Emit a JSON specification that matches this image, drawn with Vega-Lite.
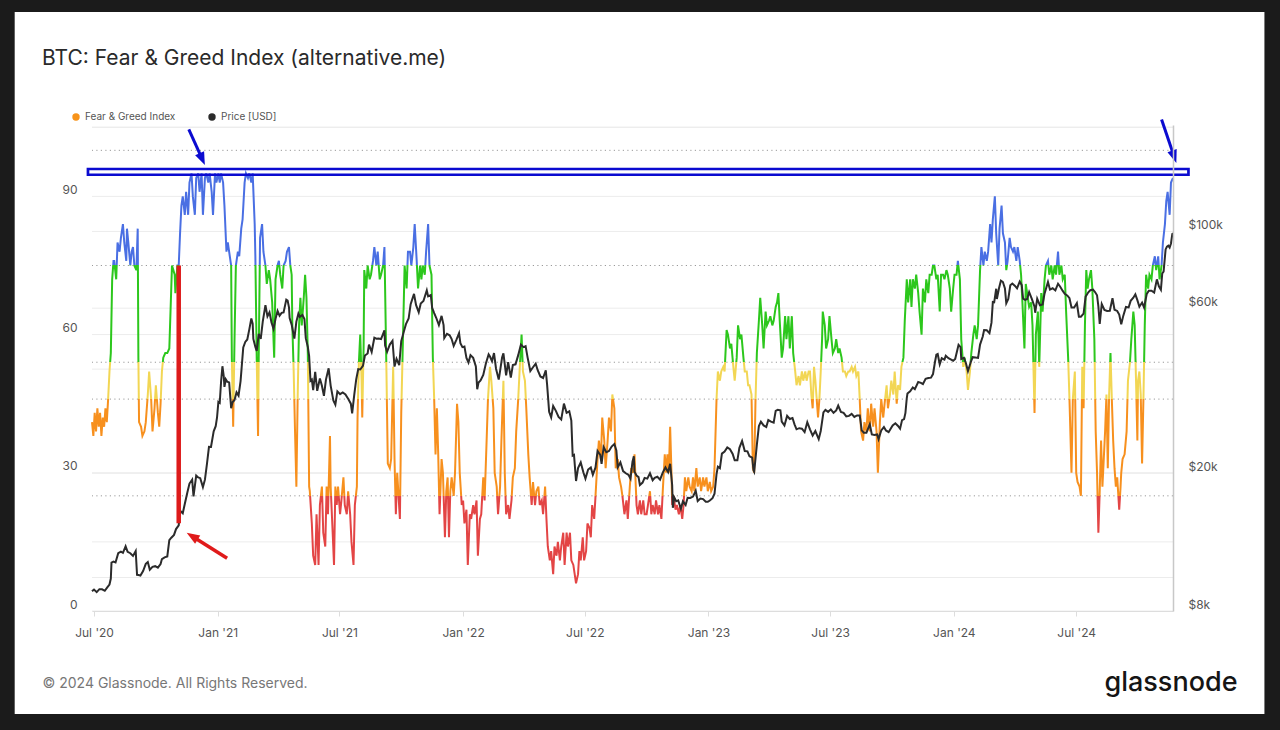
{
"$schema": "https://vega.github.io/schema/vega-lite/v6.json",
"autosize": {"type": "none"},
"width": 1081,
"height": 486,
"padding": {"left": 92, "top": 125, "right": 107, "bottom": 119},
"background": "#1b1b1b",
"title": {"text": "BTC: Fear & Greed Index (alternative.me)", "anchor": "start", "frame": "group", "dx": -50, "offset": -57, "fontSize": 21, "font": "Inter", "fontWeight": 400, "color": "#2a2a2a"},
"config": {"view": {"stroke": null}, "font": "Inter"},
"datasets": {
"panel": [{"x": "2020-03-05", "x2": "2025-04-07", "y": 130.03, "y2": -22.36}],
"fggrid": [{"v": 0}, {"v": 15}, {"v": 30}, {"v": 60}, {"v": 90}, {"v": 105}],
"pgrid": [{"p": 10000}, {"p": 20000}, {"p": 40000}, {"p": 60000}, {"p": 100000}, {"p": 200000}],
"thr": [{"v": 25}, {"v": 46}, {"v": 54}, {"v": 75}, {"v": 100}],
"ann": [
{"id": "box", "x": "2020-06-22", "x2": "2024-12-15", "y": 95.95, "y2": 94.7},
{"id": "redline", "x": "2020-11-04", "x2": "2020-11-04", "y": 75, "y2": 19.04},
{"id": "redarrow", "x": "2021-01-15", "x2": "2020-11-24", "y": 11.44, "y2": 16.24},
{"id": "bluearrow1", "x": "2020-11-19", "x2": "2020-12-09", "y": 104.57, "y2": 98.1},
{"id": "bluearrow2", "x": "2024-11-05", "x2": "2024-11-23T19:00", "y": 106.7, "y2": 98.6}
],
"fg": [
{"d":"2020-06-28","v":41},{"d":"2020-06-30","v":38},{"d":"2020-07-02","v":43},{"d":"2020-07-04","v":39},{"d":"2020-07-06","v":44},{"d":"2020-07-08","v":40},{"d":"2020-07-10","v":43},{"d":"2020-07-12","v":38},{"d":"2020-07-14","v":42},{"d":"2020-07-16","v":40},{"d":"2020-07-18","v":44},{"d":"2020-07-20","v":41},{"d":"2020-07-22","v":46},{"d":"2020-07-24","v":52},{"d":"2020-07-26","v":56},{"d":"2020-07-28","v":72},{"d":"2020-07-30","v":76},{"d":"2020-07-31","v":76},
{"d":"2020-08-03","v":72},{"d":"2020-08-05","v":80},{"d":"2020-08-08","v":78},{"d":"2020-08-10","v":81},{"d":"2020-08-13","v":84},{"d":"2020-08-15","v":80},{"d":"2020-08-18","v":76},{"d":"2020-08-19","v":83},{"d":"2020-08-21","v":80},{"d":"2020-08-24","v":75},{"d":"2020-08-26","v":78},{"d":"2020-08-28","v":79},{"d":"2020-08-30","v":75},{"d":"2020-09-02","v":74},{"d":"2020-09-04","v":83},{"d":"2020-09-05","v":55},{"d":"2020-09-06","v":41},{"d":"2020-09-09","v":40},{"d":"2020-09-11","v":38},{"d":"2020-09-14","v":39},{"d":"2020-09-16","v":41},{"d":"2020-09-19","v":47},{"d":"2020-09-21","v":52},{"d":"2020-09-24","v":46},{"d":"2020-09-26","v":39},{"d":"2020-09-29","v":44},
{"d":"2020-10-01","v":49},{"d":"2020-10-04","v":43},{"d":"2020-10-06","v":40},{"d":"2020-10-08","v":45},{"d":"2020-10-10","v":52},{"d":"2020-10-12","v":55},{"d":"2020-10-15","v":56},{"d":"2020-10-18","v":56},{"d":"2020-10-21","v":57},{"d":"2020-10-23","v":66},{"d":"2020-10-25","v":75},{"d":"2020-10-27","v":74},{"d":"2020-10-29","v":73},{"d":"2020-10-30","v":69},{"d":"2020-11-02","v":75},{"d":"2020-11-04","v":75},{"d":"2020-11-06","v":82},{"d":"2020-11-08","v":88},{"d":"2020-11-10","v":90},{"d":"2020-11-13","v":86},{"d":"2020-11-15","v":91},{"d":"2020-11-18","v":86},{"d":"2020-11-20","v":93},{"d":"2020-11-23","v":95},{"d":"2020-11-25","v":90},{"d":"2020-11-28","v":86},{"d":"2020-11-30","v":94},
{"d":"2020-12-03","v":95},{"d":"2020-12-05","v":91},{"d":"2020-12-08","v":95},{"d":"2020-12-10","v":86},{"d":"2020-12-13","v":94},{"d":"2020-12-15","v":95},{"d":"2020-12-18","v":93},{"d":"2020-12-20","v":95},{"d":"2020-12-23","v":91},{"d":"2020-12-25","v":86},{"d":"2020-12-28","v":95},{"d":"2020-12-30","v":93},
{"d":"2021-01-02","v":95},{"d":"2021-01-04","v":93},{"d":"2021-01-06","v":95},{"d":"2021-01-09","v":93},{"d":"2021-01-11","v":88},{"d":"2021-01-14","v":78},{"d":"2021-01-16","v":80},{"d":"2021-01-19","v":77},{"d":"2021-01-21","v":75},{"d":"2021-01-22","v":55},{"d":"2021-01-24","v":40},{"d":"2021-01-26","v":59},{"d":"2021-01-28","v":75},{"d":"2021-01-31","v":78},
{"d":"2021-02-02","v":77},{"d":"2021-02-05","v":83},{"d":"2021-02-07","v":85},{"d":"2021-02-10","v":93},{"d":"2021-02-12","v":95},{"d":"2021-02-15","v":94},{"d":"2021-02-17","v":95},{"d":"2021-02-20","v":93},{"d":"2021-02-22","v":95},{"d":"2021-02-25","v":84},{"d":"2021-02-26","v":77},{"d":"2021-02-28","v":55},
{"d":"2021-03-02","v":38},{"d":"2021-03-03","v":55},{"d":"2021-03-05","v":81},{"d":"2021-03-08","v":84},{"d":"2021-03-10","v":78},{"d":"2021-03-13","v":75},{"d":"2021-03-15","v":71},{"d":"2021-03-18","v":74},{"d":"2021-03-20","v":72},{"d":"2021-03-23","v":67},{"d":"2021-03-26","v":55},{"d":"2021-03-28","v":72},{"d":"2021-03-31","v":75},
{"d":"2021-04-02","v":76},{"d":"2021-04-04","v":73},{"d":"2021-04-07","v":70},{"d":"2021-04-09","v":75},{"d":"2021-04-12","v":76},{"d":"2021-04-14","v":78},{"d":"2021-04-17","v":79},{"d":"2021-04-19","v":75},{"d":"2021-04-21","v":73},{"d":"2021-04-22","v":62},{"d":"2021-04-24","v":52},{"d":"2021-04-26","v":39},{"d":"2021-04-28","v":27},{"d":"2021-04-30","v":47},
{"d":"2021-05-02","v":62},{"d":"2021-05-04","v":68},{"d":"2021-05-06","v":62},{"d":"2021-05-09","v":68},{"d":"2021-05-11","v":73},{"d":"2021-05-13","v":68},{"d":"2021-05-15","v":56},{"d":"2021-05-17","v":27},{"d":"2021-05-18","v":26},{"d":"2021-05-21","v":19},{"d":"2021-05-23","v":12},{"d":"2021-05-26","v":10},{"d":"2021-05-28","v":21},{"d":"2021-05-31","v":10},
{"d":"2021-06-02","v":23},{"d":"2021-06-05","v":27},{"d":"2021-06-07","v":17},{"d":"2021-06-10","v":14},{"d":"2021-06-12","v":27},{"d":"2021-06-14","v":21},{"d":"2021-06-17","v":38},{"d":"2021-06-18","v":27},{"d":"2021-06-21","v":17},{"d":"2021-06-23","v":10},{"d":"2021-06-25","v":27},{"d":"2021-06-27","v":23},{"d":"2021-06-29","v":27},
{"d":"2021-07-02","v":21},{"d":"2021-07-04","v":24},{"d":"2021-07-07","v":29},{"d":"2021-07-09","v":23},{"d":"2021-07-12","v":21},{"d":"2021-07-14","v":26},{"d":"2021-07-17","v":21},{"d":"2021-07-19","v":15},{"d":"2021-07-22","v":10},{"d":"2021-07-24","v":23},{"d":"2021-07-27","v":27},{"d":"2021-07-28","v":42},{"d":"2021-07-30","v":54},
{"d":"2021-08-01","v":60},{"d":"2021-08-03","v":50},{"d":"2021-08-04","v":42},{"d":"2021-08-06","v":57},{"d":"2021-08-07","v":74},{"d":"2021-08-10","v":70},{"d":"2021-08-12","v":75},{"d":"2021-08-15","v":72},{"d":"2021-08-17","v":73},{"d":"2021-08-20","v":76},{"d":"2021-08-22","v":79},{"d":"2021-08-25","v":75},{"d":"2021-08-27","v":78},{"d":"2021-08-30","v":72},
{"d":"2021-09-01","v":73},{"d":"2021-09-04","v":75},{"d":"2021-09-06","v":79},{"d":"2021-09-09","v":52},{"d":"2021-09-11","v":32},{"d":"2021-09-14","v":31},{"d":"2021-09-16","v":33},{"d":"2021-09-19","v":53},{"d":"2021-09-21","v":33},{"d":"2021-09-23","v":21},{"d":"2021-09-25","v":30},{"d":"2021-09-27","v":25},{"d":"2021-09-29","v":20},
{"d":"2021-10-01","v":43},{"d":"2021-10-04","v":62},{"d":"2021-10-06","v":75},{"d":"2021-10-09","v":70},{"d":"2021-10-11","v":78},{"d":"2021-10-14","v":78},{"d":"2021-10-16","v":75},{"d":"2021-10-19","v":79},{"d":"2021-10-21","v":84},{"d":"2021-10-24","v":76},{"d":"2021-10-26","v":70},{"d":"2021-10-29","v":75},{"d":"2021-10-31","v":72},
{"d":"2021-11-02","v":75},{"d":"2021-11-05","v":73},{"d":"2021-11-07","v":78},{"d":"2021-11-10","v":84},{"d":"2021-11-12","v":75},{"d":"2021-11-15","v":73},{"d":"2021-11-17","v":55},{"d":"2021-11-19","v":46},{"d":"2021-11-21","v":34},{"d":"2021-11-23","v":44},{"d":"2021-11-25","v":34},{"d":"2021-11-27","v":21},{"d":"2021-11-30","v":33},
{"d":"2021-12-02","v":30},{"d":"2021-12-05","v":16},{"d":"2021-12-07","v":26},{"d":"2021-12-09","v":29},{"d":"2021-12-11","v":16},{"d":"2021-12-13","v":26},{"d":"2021-12-15","v":29},{"d":"2021-12-18","v":25},{"d":"2021-12-20","v":30},{"d":"2021-12-23","v":45},{"d":"2021-12-25","v":41},{"d":"2021-12-27","v":30},{"d":"2021-12-30","v":23},
{"d":"2022-01-01","v":24},{"d":"2022-01-03","v":19},{"d":"2022-01-06","v":22},{"d":"2022-01-08","v":10},{"d":"2022-01-11","v":21},{"d":"2022-01-13","v":20},{"d":"2022-01-16","v":23},{"d":"2022-01-18","v":21},{"d":"2022-01-21","v":24},{"d":"2022-01-23","v":12},{"d":"2022-01-26","v":20},{"d":"2022-01-28","v":21},{"d":"2022-01-31","v":29},
{"d":"2022-02-02","v":24},{"d":"2022-02-05","v":37},{"d":"2022-02-07","v":46},{"d":"2022-02-10","v":53},{"d":"2022-02-12","v":50},{"d":"2022-02-15","v":44},{"d":"2022-02-17","v":30},{"d":"2022-02-20","v":27},{"d":"2022-02-22","v":21},{"d":"2022-02-25","v":27},{"d":"2022-02-27","v":37},
{"d":"2022-03-02","v":50},{"d":"2022-03-04","v":30},{"d":"2022-03-06","v":21},{"d":"2022-03-09","v":23},{"d":"2022-03-11","v":20},{"d":"2022-03-14","v":24},{"d":"2022-03-16","v":29},{"d":"2022-03-19","v":31},{"d":"2022-03-21","v":39},{"d":"2022-03-24","v":46},{"d":"2022-03-26","v":52},{"d":"2022-03-29","v":60},{"d":"2022-03-31","v":52},
{"d":"2022-04-03","v":50},{"d":"2022-04-05","v":44},{"d":"2022-04-08","v":34},{"d":"2022-04-10","v":29},{"d":"2022-04-13","v":23},{"d":"2022-04-15","v":28},{"d":"2022-04-18","v":23},{"d":"2022-04-20","v":26},{"d":"2022-04-23","v":27},{"d":"2022-04-25","v":23},{"d":"2022-04-28","v":24},{"d":"2022-04-30","v":21},
{"d":"2022-05-03","v":27},{"d":"2022-05-05","v":20},{"d":"2022-05-07","v":14},{"d":"2022-05-10","v":11},{"d":"2022-05-12","v":13},{"d":"2022-05-15","v":8},{"d":"2022-05-17","v":14},{"d":"2022-05-20","v":12},{"d":"2022-05-22","v":15},{"d":"2022-05-25","v":11},{"d":"2022-05-27","v":14},{"d":"2022-05-30","v":17},
{"d":"2022-06-01","v":10},{"d":"2022-06-04","v":17},{"d":"2022-06-06","v":14},{"d":"2022-06-09","v":17},{"d":"2022-06-11","v":11},{"d":"2022-06-14","v":10},{"d":"2022-06-16","v":8},{"d":"2022-06-18","v":6},{"d":"2022-06-21","v":8},{"d":"2022-06-23","v":13},{"d":"2022-06-25","v":11},{"d":"2022-06-28","v":16},{"d":"2022-06-30","v":11},
{"d":"2022-07-03","v":13},{"d":"2022-07-05","v":19},{"d":"2022-07-08","v":18},{"d":"2022-07-10","v":16},{"d":"2022-07-12","v":23},{"d":"2022-07-15","v":20},{"d":"2022-07-17","v":25},{"d":"2022-07-20","v":33},{"d":"2022-07-22","v":37},{"d":"2022-07-25","v":33},{"d":"2022-07-27","v":42},{"d":"2022-07-30","v":37},
{"d":"2022-08-01","v":31},{"d":"2022-08-04","v":37},{"d":"2022-08-06","v":42},{"d":"2022-08-09","v":39},{"d":"2022-08-11","v":47},{"d":"2022-08-14","v":44},{"d":"2022-08-16","v":31},{"d":"2022-08-19","v":33},{"d":"2022-08-21","v":29},{"d":"2022-08-24","v":27},{"d":"2022-08-26","v":25},{"d":"2022-08-29","v":21},
{"d":"2022-09-01","v":24},{"d":"2022-09-03","v":20},{"d":"2022-09-06","v":27},{"d":"2022-09-08","v":31},{"d":"2022-09-11","v":30},{"d":"2022-09-13","v":34},{"d":"2022-09-16","v":23},{"d":"2022-09-18","v":21},{"d":"2022-09-21","v":24},{"d":"2022-09-23","v":21},{"d":"2022-09-26","v":24},{"d":"2022-09-28","v":21},
{"d":"2022-10-01","v":21},{"d":"2022-10-03","v":23},{"d":"2022-10-06","v":26},{"d":"2022-10-08","v":21},{"d":"2022-10-10","v":23},{"d":"2022-10-13","v":21},{"d":"2022-10-15","v":24},{"d":"2022-10-18","v":21},{"d":"2022-10-20","v":23},{"d":"2022-10-23","v":20},{"d":"2022-10-25","v":26},{"d":"2022-10-28","v":34},{"d":"2022-10-30","v":30},
{"d":"2022-11-01","v":34},{"d":"2022-11-03","v":30},{"d":"2022-11-05","v":40},{"d":"2022-11-07","v":30},{"d":"2022-11-08","v":23},{"d":"2022-11-10","v":25},{"d":"2022-11-13","v":22},{"d":"2022-11-15","v":23},{"d":"2022-11-18","v":21},{"d":"2022-11-20","v":23},{"d":"2022-11-23","v":20},{"d":"2022-11-25","v":23},{"d":"2022-11-27","v":29},{"d":"2022-11-29","v":26},
{"d":"2022-12-02","v":29},{"d":"2022-12-04","v":27},{"d":"2022-12-07","v":26},{"d":"2022-12-09","v":29},{"d":"2022-12-11","v":26},{"d":"2022-12-14","v":31},{"d":"2022-12-16","v":27},{"d":"2022-12-19","v":29},{"d":"2022-12-21","v":26},{"d":"2022-12-24","v":29},{"d":"2022-12-26","v":27},{"d":"2022-12-29","v":29},{"d":"2022-12-31","v":26},
{"d":"2023-01-03","v":28},{"d":"2023-01-05","v":26},{"d":"2023-01-08","v":27},{"d":"2023-01-10","v":31},{"d":"2023-01-13","v":46},{"d":"2023-01-15","v":52},{"d":"2023-01-18","v":50},{"d":"2023-01-20","v":52},{"d":"2023-01-23","v":53},{"d":"2023-01-25","v":52},{"d":"2023-01-28","v":61},{"d":"2023-01-30","v":60},
{"d":"2023-02-02","v":57},{"d":"2023-02-04","v":58},{"d":"2023-02-07","v":53},{"d":"2023-02-09","v":50},{"d":"2023-02-12","v":55},{"d":"2023-02-14","v":62},{"d":"2023-02-17","v":59},{"d":"2023-02-19","v":60},{"d":"2023-02-22","v":55},{"d":"2023-02-24","v":52},{"d":"2023-02-27","v":52},
{"d":"2023-03-01","v":49},{"d":"2023-03-03","v":49},{"d":"2023-03-06","v":47},{"d":"2023-03-08","v":31},{"d":"2023-03-10","v":30},{"d":"2023-03-12","v":46},{"d":"2023-03-14","v":56},{"d":"2023-03-17","v":63},{"d":"2023-03-19","v":68},{"d":"2023-03-22","v":62},{"d":"2023-03-24","v":57},{"d":"2023-03-27","v":65},{"d":"2023-03-29","v":62},
{"d":"2023-04-01","v":63},{"d":"2023-04-03","v":64},{"d":"2023-04-06","v":62},{"d":"2023-04-08","v":63},{"d":"2023-04-11","v":66},{"d":"2023-04-13","v":67},{"d":"2023-04-15","v":69},{"d":"2023-04-17","v":63},{"d":"2023-04-20","v":55},{"d":"2023-04-22","v":57},{"d":"2023-04-25","v":64},{"d":"2023-04-27","v":59},{"d":"2023-04-30","v":64},
{"d":"2023-05-02","v":57},{"d":"2023-05-05","v":64},{"d":"2023-05-07","v":56},{"d":"2023-05-10","v":52},{"d":"2023-05-12","v":49},{"d":"2023-05-15","v":51},{"d":"2023-05-17","v":49},{"d":"2023-05-20","v":52},{"d":"2023-05-22","v":50},{"d":"2023-05-25","v":52},{"d":"2023-05-27","v":50},{"d":"2023-05-30","v":52},
{"d":"2023-06-01","v":52},{"d":"2023-06-03","v":47},{"d":"2023-06-05","v":44},{"d":"2023-06-07","v":53},{"d":"2023-06-09","v":50},{"d":"2023-06-11","v":46},{"d":"2023-06-13","v":42},{"d":"2023-06-15","v":46},{"d":"2023-06-17","v":52},{"d":"2023-06-19","v":59},{"d":"2023-06-20","v":65},{"d":"2023-06-23","v":62},{"d":"2023-06-25","v":57},{"d":"2023-06-28","v":59},{"d":"2023-06-30","v":64},
{"d":"2023-07-03","v":59},{"d":"2023-07-05","v":56},{"d":"2023-07-08","v":57},{"d":"2023-07-10","v":59},{"d":"2023-07-13","v":56},{"d":"2023-07-15","v":57},{"d":"2023-07-18","v":55},{"d":"2023-07-20","v":52},{"d":"2023-07-23","v":52},{"d":"2023-07-25","v":51},{"d":"2023-07-28","v":52},{"d":"2023-07-30","v":52},
{"d":"2023-08-02","v":53},{"d":"2023-08-04","v":52},{"d":"2023-08-07","v":53},{"d":"2023-08-09","v":51},{"d":"2023-08-12","v":52},{"d":"2023-08-14","v":46},{"d":"2023-08-16","v":39},{"d":"2023-08-19","v":37},{"d":"2023-08-21","v":41},{"d":"2023-08-24","v":39},{"d":"2023-08-26","v":44},{"d":"2023-08-29","v":39},{"d":"2023-08-31","v":45},
{"d":"2023-09-03","v":40},{"d":"2023-09-05","v":44},{"d":"2023-09-08","v":39},{"d":"2023-09-10","v":30},{"d":"2023-09-13","v":41},{"d":"2023-09-15","v":46},{"d":"2023-09-18","v":42},{"d":"2023-09-20","v":45},{"d":"2023-09-23","v":49},{"d":"2023-09-25","v":44},{"d":"2023-09-28","v":47},{"d":"2023-09-30","v":50},
{"d":"2023-10-03","v":47},{"d":"2023-10-05","v":52},{"d":"2023-10-08","v":45},{"d":"2023-10-10","v":49},{"d":"2023-10-13","v":48},{"d":"2023-10-15","v":53},{"d":"2023-10-18","v":55},{"d":"2023-10-20","v":63},{"d":"2023-10-23","v":72},{"d":"2023-10-25","v":67},{"d":"2023-10-28","v":72},{"d":"2023-10-30","v":66},
{"d":"2023-11-01","v":72},{"d":"2023-11-04","v":70},{"d":"2023-11-06","v":73},{"d":"2023-11-09","v":69},{"d":"2023-11-11","v":65},{"d":"2023-11-14","v":60},{"d":"2023-11-16","v":70},{"d":"2023-11-19","v":67},{"d":"2023-11-21","v":72},{"d":"2023-11-24","v":69},{"d":"2023-11-26","v":73},{"d":"2023-11-29","v":73},
{"d":"2023-12-01","v":75},{"d":"2023-12-03","v":75},{"d":"2023-12-06","v":72},{"d":"2023-12-08","v":73},{"d":"2023-12-11","v":65},{"d":"2023-12-13","v":73},{"d":"2023-12-16","v":73},{"d":"2023-12-18","v":72},{"d":"2023-12-21","v":74},{"d":"2023-12-23","v":73},{"d":"2023-12-26","v":70},{"d":"2023-12-28","v":65},{"d":"2023-12-31","v":70},
{"d":"2024-01-02","v":73},{"d":"2024-01-05","v":73},{"d":"2024-01-07","v":76},{"d":"2024-01-10","v":72},{"d":"2024-01-12","v":59},{"d":"2024-01-15","v":53},{"d":"2024-01-17","v":55},{"d":"2024-01-20","v":52},{"d":"2024-01-22","v":48},{"d":"2024-01-25","v":52},{"d":"2024-01-27","v":56},{"d":"2024-01-30","v":60},
{"d":"2024-02-01","v":62},{"d":"2024-02-04","v":59},{"d":"2024-02-06","v":62},{"d":"2024-02-09","v":74},{"d":"2024-02-11","v":79},{"d":"2024-02-14","v":75},{"d":"2024-02-16","v":78},{"d":"2024-02-19","v":76},{"d":"2024-02-21","v":78},{"d":"2024-02-24","v":84},{"d":"2024-02-26","v":80},{"d":"2024-02-28","v":85},
{"d":"2024-03-02","v":90},{"d":"2024-03-04","v":82},{"d":"2024-03-07","v":75},{"d":"2024-03-09","v":83},{"d":"2024-03-12","v":88},{"d":"2024-03-14","v":82},{"d":"2024-03-17","v":80},{"d":"2024-03-19","v":74},{"d":"2024-03-21","v":76},{"d":"2024-03-24","v":81},{"d":"2024-03-26","v":79},{"d":"2024-03-29","v":78},{"d":"2024-03-31","v":79},
{"d":"2024-04-03","v":76},{"d":"2024-04-05","v":79},{"d":"2024-04-08","v":76},{"d":"2024-04-10","v":73},{"d":"2024-04-12","v":67},{"d":"2024-04-15","v":57},{"d":"2024-04-17","v":71},{"d":"2024-04-20","v":68},{"d":"2024-04-22","v":66},{"d":"2024-04-25","v":67},{"d":"2024-04-27","v":62},{"d":"2024-04-30","v":43},
{"d":"2024-05-02","v":60},{"d":"2024-05-05","v":65},{"d":"2024-05-07","v":53},{"d":"2024-05-10","v":69},{"d":"2024-05-12","v":65},{"d":"2024-05-15","v":72},{"d":"2024-05-17","v":75},{"d":"2024-05-20","v":76},{"d":"2024-05-22","v":73},{"d":"2024-05-25","v":75},{"d":"2024-05-27","v":72},{"d":"2024-05-30","v":75},
{"d":"2024-06-01","v":73},{"d":"2024-06-04","v":78},{"d":"2024-06-06","v":73},{"d":"2024-06-09","v":75},{"d":"2024-06-11","v":72},{"d":"2024-06-14","v":73},{"d":"2024-06-16","v":65},{"d":"2024-06-19","v":55},{"d":"2024-06-21","v":46},{"d":"2024-06-24","v":30},{"d":"2024-06-26","v":46},{"d":"2024-06-29","v":52},
{"d":"2024-07-01","v":30},{"d":"2024-07-03","v":28},{"d":"2024-07-06","v":27},{"d":"2024-07-08","v":25},{"d":"2024-07-10","v":53},{"d":"2024-07-12","v":44},{"d":"2024-07-14","v":62},{"d":"2024-07-16","v":74},{"d":"2024-07-18","v":70},{"d":"2024-07-20","v":72},{"d":"2024-07-23","v":74},{"d":"2024-07-25","v":70},{"d":"2024-07-28","v":59},{"d":"2024-07-30","v":39},
{"d":"2024-08-01","v":30},{"d":"2024-08-03","v":17},{"d":"2024-08-05","v":26},{"d":"2024-08-07","v":37},{"d":"2024-08-09","v":27},{"d":"2024-08-11","v":33},{"d":"2024-08-13","v":39},{"d":"2024-08-15","v":47},{"d":"2024-08-17","v":31},{"d":"2024-08-19","v":47},{"d":"2024-08-21","v":56},{"d":"2024-08-23","v":46},{"d":"2024-08-25","v":37},{"d":"2024-08-27","v":31},{"d":"2024-08-29","v":27},{"d":"2024-08-31","v":29},
{"d":"2024-09-03","v":22},{"d":"2024-09-05","v":27},{"d":"2024-09-06","v":30},{"d":"2024-09-08","v":33},{"d":"2024-09-11","v":34},{"d":"2024-09-14","v":39},{"d":"2024-09-16","v":50},{"d":"2024-09-19","v":54},{"d":"2024-09-21","v":59},{"d":"2024-09-24","v":65},{"d":"2024-09-26","v":62},{"d":"2024-09-28","v":50},{"d":"2024-09-30","v":37},
{"d":"2024-10-01","v":50},{"d":"2024-10-03","v":52},{"d":"2024-10-05","v":47},{"d":"2024-10-07","v":32},{"d":"2024-10-09","v":46},{"d":"2024-10-11","v":62},{"d":"2024-10-13","v":73},{"d":"2024-10-16","v":70},{"d":"2024-10-18","v":73},{"d":"2024-10-21","v":72},{"d":"2024-10-23","v":75},{"d":"2024-10-26","v":77},{"d":"2024-10-28","v":74},{"d":"2024-10-31","v":77},
{"d":"2024-11-02","v":72},{"d":"2024-11-05","v":75},{"d":"2024-11-07","v":80},{"d":"2024-11-10","v":84},{"d":"2024-11-12","v":89},{"d":"2024-11-14","v":91},{"d":"2024-11-17","v":86},{"d":"2024-11-19","v":93},{"d":"2024-11-22","v":94}
],
"price": [
{"d":"2020-06-28","p":9120},{"d":"2020-07-01","p":9230},{"d":"2020-07-05","p":9070},{"d":"2020-07-09","p":9250},{"d":"2020-07-13","p":9240},{"d":"2020-07-17","p":9150},{"d":"2020-07-21","p":9380},{"d":"2020-07-24","p":9540},{"d":"2020-07-26","p":9930},{"d":"2020-07-27","p":11030},{"d":"2020-07-30","p":11110},
{"d":"2020-08-02","p":11050},{"d":"2020-08-06","p":11750},{"d":"2020-08-10","p":11870},{"d":"2020-08-13","p":11780},{"d":"2020-08-17","p":12300},{"d":"2020-08-20","p":11860},{"d":"2020-08-24","p":11750},{"d":"2020-08-28","p":11540},{"d":"2020-09-01","p":11920},{"d":"2020-09-03","p":10170},{"d":"2020-09-05","p":10160},{"d":"2020-09-08","p":10130},{"d":"2020-09-12","p":10440},{"d":"2020-09-16","p":10950},{"d":"2020-09-19","p":11080},{"d":"2020-09-22","p":10530},{"d":"2020-09-26","p":10730},{"d":"2020-09-30","p":10780},
{"d":"2020-10-04","p":10670},{"d":"2020-10-08","p":10930},{"d":"2020-10-10","p":11300},{"d":"2020-10-14","p":11430},{"d":"2020-10-18","p":11500},{"d":"2020-10-21","p":12820},{"d":"2020-10-24","p":13030},{"d":"2020-10-28","p":13270},{"d":"2020-10-31","p":13800},{"d":"2020-11-04","p":14150},{"d":"2020-11-06","p":15590},{"d":"2020-11-10","p":15330},{"d":"2020-11-13","p":16300},{"d":"2020-11-17","p":17650},{"d":"2020-11-20","p":18680},{"d":"2020-11-24","p":19170},{"d":"2020-11-26","p":17150},{"d":"2020-11-30","p":19700},
{"d":"2020-12-03","p":19450},{"d":"2020-12-06","p":19360},{"d":"2020-12-10","p":18250},{"d":"2020-12-13","p":19170},{"d":"2020-12-16","p":21310},{"d":"2020-12-19","p":23850},{"d":"2020-12-22","p":23830},{"d":"2020-12-26","p":26440},{"d":"2020-12-29","p":27360},{"d":"2020-12-31","p":28990},
{"d":"2021-01-02","p":32170},{"d":"2021-01-04","p":31970},{"d":"2021-01-06","p":36770},{"d":"2021-01-08","p":40780},{"d":"2021-01-10","p":38150},{"d":"2021-01-11","p":35540},{"d":"2021-01-13","p":37390},{"d":"2021-01-15","p":36820},{"d":"2021-01-18","p":36630},{"d":"2021-01-21","p":30830},{"d":"2021-01-23","p":32070},{"d":"2021-01-26","p":32570},{"d":"2021-01-29","p":34270},
{"d":"2021-02-01","p":33540},{"d":"2021-02-04","p":36930},{"d":"2021-02-08","p":46200},{"d":"2021-02-11","p":47910},{"d":"2021-02-14","p":48720},{"d":"2021-02-17","p":52120},{"d":"2021-02-20","p":56000},{"d":"2021-02-22","p":54090},{"d":"2021-02-23","p":48890},{"d":"2021-02-26","p":46340},{"d":"2021-02-28","p":45140},
{"d":"2021-03-03","p":50540},{"d":"2021-03-06","p":48900},{"d":"2021-03-09","p":54880},{"d":"2021-03-13","p":61200},{"d":"2021-03-16","p":56800},{"d":"2021-03-19","p":58340},{"d":"2021-03-22","p":54530},{"d":"2021-03-25","p":52300},{"d":"2021-03-28","p":55880},{"d":"2021-03-31","p":58920},
{"d":"2021-04-03","p":57060},{"d":"2021-04-06","p":58150},{"d":"2021-04-09","p":58330},{"d":"2021-04-13","p":63500},{"d":"2021-04-15","p":63110},{"d":"2021-04-17","p":60360},{"d":"2021-04-18","p":56200},{"d":"2021-04-21","p":53790},{"d":"2021-04-25","p":49000},{"d":"2021-04-28","p":54880},
{"d":"2021-05-01","p":57830},{"d":"2021-05-03","p":56630},{"d":"2021-05-07","p":57360},{"d":"2021-05-10","p":55860},{"d":"2021-05-12","p":49150},{"d":"2021-05-15","p":46430},{"d":"2021-05-17","p":43600},{"d":"2021-05-19","p":37000},{"d":"2021-05-21","p":37300},{"d":"2021-05-23","p":34770},{"d":"2021-05-26","p":39300},{"d":"2021-05-29","p":34620},
{"d":"2021-06-02","p":37570},{"d":"2021-06-05","p":35800},{"d":"2021-06-08","p":33470},{"d":"2021-06-11","p":37300},{"d":"2021-06-15","p":40220},{"d":"2021-06-18","p":35840},{"d":"2021-06-22","p":32500},{"d":"2021-06-25","p":31600},{"d":"2021-06-28","p":34500},
{"d":"2021-07-02","p":33850},{"d":"2021-07-06","p":34240},{"d":"2021-07-10","p":33800},{"d":"2021-07-14","p":32820},{"d":"2021-07-18","p":31780},{"d":"2021-07-20","p":29800},{"d":"2021-07-23","p":33600},{"d":"2021-07-26","p":37340},{"d":"2021-07-29","p":40000},
{"d":"2021-08-01","p":39900},{"d":"2021-08-05","p":40870},{"d":"2021-08-08","p":43800},{"d":"2021-08-12","p":44400},{"d":"2021-08-14","p":47110},{"d":"2021-08-18","p":44850},{"d":"2021-08-22","p":49300},{"d":"2021-08-25","p":48990},{"d":"2021-08-28","p":49060},
{"d":"2021-09-01","p":48850},{"d":"2021-09-06","p":51760},{"d":"2021-09-07","p":46800},{"d":"2021-09-10","p":44900},{"d":"2021-09-14","p":47100},{"d":"2021-09-18","p":48310},{"d":"2021-09-21","p":40690},{"d":"2021-09-24","p":42840},{"d":"2021-09-28","p":41100},
{"d":"2021-10-01","p":48200},{"d":"2021-10-05","p":51500},{"d":"2021-10-08","p":53970},{"d":"2021-10-12","p":56000},{"d":"2021-10-15","p":61600},{"d":"2021-10-20","p":66000},{"d":"2021-10-23","p":61300},{"d":"2021-10-27","p":58400},{"d":"2021-10-30","p":61900},
{"d":"2021-11-03","p":62960},{"d":"2021-11-08","p":67550},{"d":"2021-11-10","p":64900},{"d":"2021-11-14","p":65470},{"d":"2021-11-16","p":60100},{"d":"2021-11-19","p":58100},{"d":"2021-11-22","p":56300},{"d":"2021-11-26","p":53600},{"d":"2021-11-30","p":57000},
{"d":"2021-12-03","p":53600},{"d":"2021-12-04","p":49200},{"d":"2021-12-08","p":50600},{"d":"2021-12-12","p":50100},{"d":"2021-12-15","p":48870},{"d":"2021-12-18","p":46680},{"d":"2021-12-22","p":48600},{"d":"2021-12-26","p":50800},{"d":"2021-12-28","p":47500},{"d":"2021-12-31","p":46300},
{"d":"2022-01-03","p":46500},{"d":"2022-01-06","p":43100},{"d":"2022-01-09","p":41800},{"d":"2022-01-12","p":43900},{"d":"2022-01-16","p":43100},{"d":"2022-01-20","p":40700},{"d":"2022-01-22","p":35000},{"d":"2022-01-24","p":36600},{"d":"2022-01-27","p":37100},{"d":"2022-01-31","p":38500},
{"d":"2022-02-04","p":41600},{"d":"2022-02-08","p":44100},{"d":"2022-02-10","p":43500},{"d":"2022-02-13","p":42200},{"d":"2022-02-16","p":44500},{"d":"2022-02-19","p":40100},{"d":"2022-02-23","p":37300},{"d":"2022-02-24","p":38300},{"d":"2022-02-28","p":43200},
{"d":"2022-03-02","p":44400},{"d":"2022-03-06","p":38400},{"d":"2022-03-09","p":41900},{"d":"2022-03-13","p":37800},{"d":"2022-03-16","p":41100},{"d":"2022-03-20","p":41300},{"d":"2022-03-24","p":43900},{"d":"2022-03-28","p":47100},
{"d":"2022-04-01","p":46300},{"d":"2022-04-04","p":46600},{"d":"2022-04-07","p":43200},{"d":"2022-04-11","p":39500},{"d":"2022-04-15","p":40500},{"d":"2022-04-19","p":41500},{"d":"2022-04-22","p":39700},{"d":"2022-04-26","p":38100},{"d":"2022-04-30","p":37700},
{"d":"2022-05-04","p":39700},{"d":"2022-05-06","p":36000},{"d":"2022-05-09","p":30100},{"d":"2022-05-12","p":29000},{"d":"2022-05-15","p":31300},{"d":"2022-05-19","p":30300},{"d":"2022-05-23","p":29100},{"d":"2022-05-27","p":28600},{"d":"2022-05-31","p":31800},
{"d":"2022-06-04","p":29900},{"d":"2022-06-08","p":30200},{"d":"2022-06-11","p":28400},{"d":"2022-06-13","p":22500},{"d":"2022-06-15","p":22600},{"d":"2022-06-18","p":19000},{"d":"2022-06-21","p":20700},{"d":"2022-06-25","p":21500},{"d":"2022-06-29","p":20100},
{"d":"2022-07-02","p":19300},{"d":"2022-07-06","p":20500},{"d":"2022-07-10","p":20800},{"d":"2022-07-13","p":19800},{"d":"2022-07-17","p":20800},{"d":"2022-07-20","p":23200},{"d":"2022-07-24","p":22600},{"d":"2022-07-26","p":21300},{"d":"2022-07-29","p":23800},
{"d":"2022-08-02","p":23000},{"d":"2022-08-06","p":23200},{"d":"2022-08-10","p":23900},{"d":"2022-08-14","p":24300},{"d":"2022-08-17","p":23300},{"d":"2022-08-19","p":20800},{"d":"2022-08-23","p":21500},{"d":"2022-08-27","p":20300},{"d":"2022-08-31","p":20000},
{"d":"2022-09-04","p":19800},{"d":"2022-09-07","p":19300},{"d":"2022-09-10","p":21600},{"d":"2022-09-12","p":22400},{"d":"2022-09-13","p":20200},{"d":"2022-09-16","p":19700},{"d":"2022-09-19","p":19500},{"d":"2022-09-21","p":18500},{"d":"2022-09-25","p":18800},{"d":"2022-09-28","p":19400},
{"d":"2022-10-02","p":19300},{"d":"2022-10-06","p":20000},{"d":"2022-10-10","p":19100},{"d":"2022-10-13","p":19400},{"d":"2022-10-17","p":19550},{"d":"2022-10-21","p":19170},{"d":"2022-10-25","p":20090},{"d":"2022-10-29","p":20800},
{"d":"2022-11-02","p":20160},{"d":"2022-11-05","p":21300},{"d":"2022-11-08","p":18500},{"d":"2022-11-09","p":15900},{"d":"2022-11-11","p":17050},{"d":"2022-11-14","p":16600},{"d":"2022-11-17","p":16700},{"d":"2022-11-21","p":15800},{"d":"2022-11-24","p":16600},{"d":"2022-11-28","p":16200},
{"d":"2022-12-01","p":17000},{"d":"2022-12-05","p":16970},{"d":"2022-12-09","p":17130},{"d":"2022-12-13","p":17800},{"d":"2022-12-16","p":16630},{"d":"2022-12-20","p":16900},{"d":"2022-12-24","p":16840},{"d":"2022-12-28","p":16550},{"d":"2022-12-31","p":16540},
{"d":"2023-01-03","p":16680},{"d":"2023-01-07","p":16950},{"d":"2023-01-10","p":17450},{"d":"2023-01-13","p":19900},{"d":"2023-01-15","p":20900},{"d":"2023-01-18","p":20700},{"d":"2023-01-21","p":22800},{"d":"2023-01-25","p":23100},{"d":"2023-01-29","p":23750},
{"d":"2023-02-02","p":23470},{"d":"2023-02-06","p":22750},{"d":"2023-02-09","p":21800},{"d":"2023-02-13","p":21800},{"d":"2023-02-16","p":23700},{"d":"2023-02-20","p":24800},{"d":"2023-02-24","p":23200},{"d":"2023-02-28","p":23150},
{"d":"2023-03-03","p":22400},{"d":"2023-03-07","p":22200},{"d":"2023-03-09","p":20400},{"d":"2023-03-10","p":20200},{"d":"2023-03-12","p":22100},{"d":"2023-03-14","p":24200},{"d":"2023-03-17","p":27400},{"d":"2023-03-20","p":28200},{"d":"2023-03-24","p":27500},{"d":"2023-03-28","p":27200},{"d":"2023-03-31","p":28500},
{"d":"2023-04-04","p":28200},{"d":"2023-04-08","p":28000},{"d":"2023-04-11","p":30300},{"d":"2023-04-14","p":30500},{"d":"2023-04-18","p":30400},{"d":"2023-04-20","p":28200},{"d":"2023-04-24","p":27500},{"d":"2023-04-28","p":29300},
{"d":"2023-05-02","p":28700},{"d":"2023-05-06","p":28900},{"d":"2023-05-09","p":27700},{"d":"2023-05-12","p":26800},{"d":"2023-05-16","p":27000},{"d":"2023-05-20","p":26900},{"d":"2023-05-24","p":26300},{"d":"2023-05-28","p":28100},
{"d":"2023-06-01","p":26800},{"d":"2023-06-05","p":25700},{"d":"2023-06-09","p":26500},{"d":"2023-06-14","p":25100},{"d":"2023-06-17","p":26500},{"d":"2023-06-21","p":30000},{"d":"2023-06-24","p":30500},{"d":"2023-06-28","p":30100},
{"d":"2023-07-02","p":30600},{"d":"2023-07-06","p":29900},{"d":"2023-07-10","p":30400},{"d":"2023-07-13","p":31400},{"d":"2023-07-17","p":30100},{"d":"2023-07-21","p":29900},{"d":"2023-07-25","p":29200},{"d":"2023-07-29","p":29300},
{"d":"2023-08-02","p":29700},{"d":"2023-08-06","p":29100},{"d":"2023-08-10","p":29400},{"d":"2023-08-14","p":29400},{"d":"2023-08-17","p":26600},{"d":"2023-08-20","p":26200},{"d":"2023-08-24","p":26200},{"d":"2023-08-29","p":27700},
{"d":"2023-09-01","p":25900},{"d":"2023-09-05","p":25800},{"d":"2023-09-09","p":25900},{"d":"2023-09-11","p":25100},{"d":"2023-09-15","p":26600},{"d":"2023-09-19","p":27200},{"d":"2023-09-22","p":26600},{"d":"2023-09-26","p":26300},{"d":"2023-09-29","p":26900},
{"d":"2023-10-02","p":27500},{"d":"2023-10-06","p":27900},{"d":"2023-10-10","p":27400},{"d":"2023-10-13","p":26900},{"d":"2023-10-16","p":28500},{"d":"2023-10-19","p":28700},{"d":"2023-10-21","p":29900},{"d":"2023-10-23","p":33000},{"d":"2023-10-24","p":34000},{"d":"2023-10-28","p":34500},
{"d":"2023-11-01","p":35400},{"d":"2023-11-04","p":35000},{"d":"2023-11-09","p":36700},{"d":"2023-11-13","p":36500},{"d":"2023-11-16","p":36200},{"d":"2023-11-20","p":37500},{"d":"2023-11-24","p":37700},{"d":"2023-11-28","p":37800},
{"d":"2023-12-01","p":38700},{"d":"2023-12-04","p":42000},{"d":"2023-12-06","p":44000},{"d":"2023-12-08","p":44200},{"d":"2023-12-11","p":41300},{"d":"2023-12-14","p":43000},{"d":"2023-12-18","p":42600},{"d":"2023-12-20","p":43700},{"d":"2023-12-24","p":43000},{"d":"2023-12-28","p":42600},{"d":"2023-12-31","p":42300},
{"d":"2024-01-03","p":42800},{"d":"2024-01-08","p":47000},{"d":"2024-01-11","p":46300},{"d":"2024-01-12","p":42800},{"d":"2024-01-16","p":43100},{"d":"2024-01-19","p":41600},{"d":"2024-01-22","p":39500},{"d":"2024-01-26","p":41800},{"d":"2024-01-29","p":43300},
{"d":"2024-02-02","p":43200},{"d":"2024-02-06","p":43100},{"d":"2024-02-09","p":47100},{"d":"2024-02-13","p":49700},{"d":"2024-02-15","p":51900},{"d":"2024-02-19","p":51800},{"d":"2024-02-23","p":50800},{"d":"2024-02-26","p":54500},{"d":"2024-02-28","p":62500},
{"d":"2024-03-01","p":62400},{"d":"2024-03-04","p":68300},{"d":"2024-03-05","p":63800},{"d":"2024-03-08","p":68300},{"d":"2024-03-11","p":72100},{"d":"2024-03-14","p":71400},{"d":"2024-03-17","p":68400},{"d":"2024-03-19","p":62000},{"d":"2024-03-22","p":63800},{"d":"2024-03-25","p":69900},{"d":"2024-03-28","p":70700},
{"d":"2024-04-01","p":69600},{"d":"2024-04-04","p":68500},{"d":"2024-04-08","p":71600},{"d":"2024-04-11","p":70000},{"d":"2024-04-13","p":63900},{"d":"2024-04-16","p":63400},{"d":"2024-04-19","p":63800},{"d":"2024-04-22","p":66800},{"d":"2024-04-26","p":63800},{"d":"2024-04-30","p":60600},
{"d":"2024-05-01","p":58200},{"d":"2024-05-04","p":63900},{"d":"2024-05-08","p":61200},{"d":"2024-05-12","p":61500},{"d":"2024-05-15","p":66200},{"d":"2024-05-20","p":71400},{"d":"2024-05-23","p":67900},{"d":"2024-05-27","p":68500},{"d":"2024-05-31","p":67500},
{"d":"2024-06-04","p":70600},{"d":"2024-06-07","p":69300},{"d":"2024-06-11","p":67300},{"d":"2024-06-14","p":66000},{"d":"2024-06-18","p":65200},{"d":"2024-06-21","p":64100},{"d":"2024-06-24","p":60300},{"d":"2024-06-28","p":60300},
{"d":"2024-07-02","p":62100},{"d":"2024-07-05","p":56700},{"d":"2024-07-08","p":56700},{"d":"2024-07-12","p":57900},{"d":"2024-07-15","p":64800},{"d":"2024-07-19","p":66700},{"d":"2024-07-22","p":67600},{"d":"2024-07-26","p":67900},{"d":"2024-07-29","p":66800},
{"d":"2024-08-01","p":65400},{"d":"2024-08-03","p":60700},{"d":"2024-08-05","p":54000},{"d":"2024-08-08","p":61700},{"d":"2024-08-12","p":59300},{"d":"2024-08-16","p":58900},{"d":"2024-08-20","p":59000},{"d":"2024-08-24","p":64100},{"d":"2024-08-27","p":59400},{"d":"2024-08-31","p":58900},
{"d":"2024-09-03","p":57500},{"d":"2024-09-06","p":53900},{"d":"2024-09-09","p":57000},{"d":"2024-09-13","p":60500},{"d":"2024-09-17","p":60300},{"d":"2024-09-20","p":63000},{"d":"2024-09-24","p":64300},{"d":"2024-09-27","p":65800},{"d":"2024-09-30","p":63300},
{"d":"2024-10-03","p":60600},{"d":"2024-10-07","p":62300},{"d":"2024-10-10","p":60300},{"d":"2024-10-14","p":66000},{"d":"2024-10-17","p":67400},{"d":"2024-10-21","p":67400},{"d":"2024-10-25","p":66600},{"d":"2024-10-29","p":72700},
{"d":"2024-11-01","p":69400},{"d":"2024-11-04","p":67800},{"d":"2024-11-06","p":75600},{"d":"2024-11-08","p":76500},{"d":"2024-11-11","p":88700},{"d":"2024-11-13","p":90400},{"d":"2024-11-15","p":91000},{"d":"2024-11-17","p":89800},{"d":"2024-11-19","p":92300},{"d":"2024-11-21","p":98300},{"d":"2024-11-22","p":98900}
]
},
"resolve": {"scale": {"y": "independent"}},
"layer": [
{"data": {"name": "panel"}, "mark": {"type": "rect", "fill": "#ffffff"},
 "encoding": {
  "x": {"field": "x", "type": "temporal", "scale": {"type": "utc", "domain": [{"year": 2020, "month": 6, "date": 28, "utc": true}, {"year": 2024, "month": 11, "date": 22, "utc": true}]},
    "axis": {"values": [{"year": 2020, "month": 7, "date": 1, "utc": true}, {"year": 2021, "month": 1, "date": 1, "utc": true}, {"year": 2021, "month": 7, "date": 1, "utc": true}, {"year": 2022, "month": 1, "date": 1, "utc": true}, {"year": 2022, "month": 7, "date": 1, "utc": true}, {"year": 2023, "month": 1, "date": 1, "utc": true}, {"year": 2023, "month": 7, "date": 1, "utc": true}, {"year": 2024, "month": 1, "date": 1, "utc": true}, {"year": 2024, "month": 7, "date": 1, "utc": true}], "format": "%b '%y", "grid": false, "domain": true, "domainColor": "#dddddd", "ticks": true, "tickColor": "#dddddd", "tickSize": 5, "labelFont": "Inter", "labelFontSize": 12, "labelColor": "#555555", "labelPadding": 11, "title": "© 2024 Glassnode. All Rights Reserved.", "titleX": -50, "titleY": 72, "titleAlign": "left", "titleBaseline": "middle", "titleAngle": 0, "titleFont": "Inter", "titleFontSize": 14, "titleFontWeight": 400, "titleColor": "#777777", "zindex": 1}},
  "x2": {"field": "x2"},
  "y": {"field": "y", "type": "quantitative", "axis": null, "scale": {"domain": [0, 105.5], "nice": false, "zero": false}},
  "y2": {"field": "y2"}}},
{"data": {"name": "fggrid"}, "mark": {"type": "rule", "color": "#ececec", "strokeWidth": 1},
 "encoding": {"y": {"field": "v", "type": "quantitative", "axis": null, "scale": {"domain": [0, 105.5], "nice": false, "zero": false}}}},
{"data": {"name": "pgrid"}, "mark": {"type": "rule", "color": "#ececec", "strokeWidth": 1},
 "encoding": {"y": {"field": "p", "type": "quantitative", "axis": null, "scale": {"type": "log", "domain": [8000, 203000], "nice": false}}}},
{"data": {"name": "thr"}, "mark": {"type": "rule", "color": "#9a9a9a", "strokeWidth": 1, "strokeDash": [1.2, 3.3]},
 "encoding": {"y": {"field": "v", "type": "quantitative", "axis": null, "scale": {"domain": [0, 105.5], "nice": false, "zero": false}}}},
{"data": {"name": "fg"},
 "mark": {"type": "line", "strokeWidth": 2, "interpolate": "linear",
   "stroke": {"gradient": "linear", "x1": 0, "y1": 1, "x2": 0, "y2": 0, "stops": [
     {"offset": 0, "color": "#e34545"}, {"offset": 0.2135, "color": "#e34545"},
     {"offset": 0.2135, "color": "#f7901e"}, {"offset": 0.4494, "color": "#f7901e"},
     {"offset": 0.4494, "color": "#f2d654"}, {"offset": 0.5393, "color": "#f2d654"},
     {"offset": 0.5393, "color": "#2cc71c"}, {"offset": 0.7753, "color": "#2cc71c"},
     {"offset": 0.7753, "color": "#4a6fe3"}, {"offset": 1, "color": "#4a6fe3"}]}},
 "encoding": {
  "x": {"field": "d", "type": "temporal", "scale": {"type": "utc", "domain": [{"year": 2020, "month": 6, "date": 28, "utc": true}, {"year": 2024, "month": 11, "date": 22, "utc": true}]},
    "axis": {"values": [{"year": 2020, "month": 7, "date": 1, "utc": true}, {"year": 2021, "month": 1, "date": 1, "utc": true}, {"year": 2021, "month": 7, "date": 1, "utc": true}, {"year": 2022, "month": 1, "date": 1, "utc": true}, {"year": 2022, "month": 7, "date": 1, "utc": true}, {"year": 2023, "month": 1, "date": 1, "utc": true}, {"year": 2023, "month": 7, "date": 1, "utc": true}, {"year": 2024, "month": 1, "date": 1, "utc": true}, {"year": 2024, "month": 7, "date": 1, "utc": true}], "format": "%b '%y", "grid": false, "domain": true, "domainColor": "#dddddd", "ticks": true, "tickColor": "#dddddd", "tickSize": 5, "labelFont": "Inter", "labelFontSize": 12, "labelColor": "#555555", "labelPadding": 11, "title": "© 2024 Glassnode. All Rights Reserved.", "titleX": -50, "titleY": 72, "titleAlign": "left", "titleBaseline": "middle", "titleAngle": 0, "titleFont": "Inter", "titleFontSize": 14, "titleFontWeight": 400, "titleColor": "#777777", "zindex": 1}},
  "y": {"field": "v", "type": "quantitative", "scale": {"domain": [0, 105.5], "nice": false, "zero": false},
    "axis": {"orient": "left", "values": [0, 30, 60, 90], "grid": false, "domain": false, "ticks": false, "labelPadding": 15, "labelBaseline": "bottom",
      "labelFont": "Inter", "labelFontSize": 12, "labelColor": "#555555", "title": null, "zindex": 1}}}},
{"data": {"name": "price"},
 "mark": {"type": "line", "strokeWidth": 2, "interpolate": "linear"},
 "encoding": {
  "x": {"field": "d", "type": "temporal", "scale": {"type": "utc", "domain": [{"year": 2020, "month": 6, "date": 28, "utc": true}, {"year": 2024, "month": 11, "date": 22, "utc": true}]},
    "axis": {"values": [{"year": 2020, "month": 7, "date": 1, "utc": true}, {"year": 2021, "month": 1, "date": 1, "utc": true}, {"year": 2021, "month": 7, "date": 1, "utc": true}, {"year": 2022, "month": 1, "date": 1, "utc": true}, {"year": 2022, "month": 7, "date": 1, "utc": true}, {"year": 2023, "month": 1, "date": 1, "utc": true}, {"year": 2023, "month": 7, "date": 1, "utc": true}, {"year": 2024, "month": 1, "date": 1, "utc": true}, {"year": 2024, "month": 7, "date": 1, "utc": true}], "format": "%b '%y", "grid": false, "domain": true, "domainColor": "#dddddd", "ticks": true, "tickColor": "#dddddd", "tickSize": 5, "labelFont": "Inter", "labelFontSize": 12, "labelColor": "#555555", "labelPadding": 11, "title": "© 2024 Glassnode. All Rights Reserved.", "titleX": -50, "titleY": 72, "titleAlign": "left", "titleBaseline": "middle", "titleAngle": 0, "titleFont": "Inter", "titleFontSize": 14, "titleFontWeight": 400, "titleColor": "#777777", "zindex": 1}},
  "y": {"field": "p", "type": "quantitative", "scale": {"type": "log", "domain": [8000, 203000], "nice": false},
    "axis": {"orient": "right", "values": [8000, 20000, 60000, 100000], "labelExpr": "'$' + (datum.value / 1000) + 'k'", "grid": false, "domain": true, "domainColor": "#c8c8c8", "domainWidth": 1.5, "ticks": false,
      "labelPadding": 15, "labelBaseline": "bottom", "labelFont": "Inter", "labelFontSize": 12, "labelColor": "#555555",
      "title": "glassnode", "titleAngle": 0, "titleX": 64, "titleY": 565, "titleAlign": "right", "titleBaseline": "alphabetic",
      "titleFont": "Inter", "titleFontSize": 27, "titleFontWeight": 500, "titleColor": "#151515", "zindex": 1}},
  "color": {"datum": "Price [USD]", "type": "nominal",
    "scale": {"domain": ["Fear & Greed Index", "Price [USD]"], "range": ["#f7931a", "#2b2b2b"]},
    "legend": {"title": null, "orient": "none", "legendX": -21, "legendY": -13, "direction": "horizontal", "columns": 2, "padding": 0,
      "symbolType": "circle", "symbolSize": 55, "symbolStrokeWidth": 0, "labelFont": "Inter", "labelFontSize": 10, "labelColor": "#555555",
      "labelOffset": 4, "columnPadding": 31, "zindex": 1,
      "encode": {"symbols": {"update": {"fill": {"scale": "color", "field": "value"}, "fillOpacity": {"value": 1}, "strokeWidth": {"value": 0}}}}}}}},
{"data": {"name": "ann"}, "transform": [{"filter": "datum.id === 'box'"}],
 "mark": {"type": "rect", "fillOpacity": 0, "stroke": "#0b0bd0", "strokeWidth": 2.7},
 "encoding": {
  "x": {"field": "x", "type": "temporal", "scale": {"type": "utc", "domain": [{"year": 2020, "month": 6, "date": 28, "utc": true}, {"year": 2024, "month": 11, "date": 22, "utc": true}]},
    "axis": {"values": [{"year": 2020, "month": 7, "date": 1, "utc": true}, {"year": 2021, "month": 1, "date": 1, "utc": true}, {"year": 2021, "month": 7, "date": 1, "utc": true}, {"year": 2022, "month": 1, "date": 1, "utc": true}, {"year": 2022, "month": 7, "date": 1, "utc": true}, {"year": 2023, "month": 1, "date": 1, "utc": true}, {"year": 2023, "month": 7, "date": 1, "utc": true}, {"year": 2024, "month": 1, "date": 1, "utc": true}, {"year": 2024, "month": 7, "date": 1, "utc": true}], "format": "%b '%y", "grid": false, "domain": true, "domainColor": "#dddddd", "ticks": true, "tickColor": "#dddddd", "tickSize": 5, "labelFont": "Inter", "labelFontSize": 12, "labelColor": "#555555", "labelPadding": 11, "title": "© 2024 Glassnode. All Rights Reserved.", "titleX": -50, "titleY": 72, "titleAlign": "left", "titleBaseline": "middle", "titleAngle": 0, "titleFont": "Inter", "titleFontSize": 14, "titleFontWeight": 400, "titleColor": "#777777", "zindex": 1}},
  "x2": {"field": "x2"},
  "y": {"field": "y", "type": "quantitative", "axis": null, "scale": {"domain": [0, 105.5], "nice": false, "zero": false}},
  "y2": {"field": "y2"}}},
{"data": {"name": "ann"}, "transform": [{"filter": "datum.id === 'redline'"}],
 "mark": {"type": "rule", "color": "#dd1a1a", "strokeWidth": 4.5},
 "encoding": {
  "x": {"field": "x", "type": "temporal", "scale": {"type": "utc", "domain": [{"year": 2020, "month": 6, "date": 28, "utc": true}, {"year": 2024, "month": 11, "date": 22, "utc": true}]},
    "axis": {"values": [{"year": 2020, "month": 7, "date": 1, "utc": true}, {"year": 2021, "month": 1, "date": 1, "utc": true}, {"year": 2021, "month": 7, "date": 1, "utc": true}, {"year": 2022, "month": 1, "date": 1, "utc": true}, {"year": 2022, "month": 7, "date": 1, "utc": true}, {"year": 2023, "month": 1, "date": 1, "utc": true}, {"year": 2023, "month": 7, "date": 1, "utc": true}, {"year": 2024, "month": 1, "date": 1, "utc": true}, {"year": 2024, "month": 7, "date": 1, "utc": true}], "format": "%b '%y", "grid": false, "domain": true, "domainColor": "#dddddd", "ticks": true, "tickColor": "#dddddd", "tickSize": 5, "labelFont": "Inter", "labelFontSize": 12, "labelColor": "#555555", "labelPadding": 11, "title": "© 2024 Glassnode. All Rights Reserved.", "titleX": -50, "titleY": 72, "titleAlign": "left", "titleBaseline": "middle", "titleAngle": 0, "titleFont": "Inter", "titleFontSize": 14, "titleFontWeight": 400, "titleColor": "#777777", "zindex": 1}},
  "y": {"field": "y", "type": "quantitative", "axis": null, "scale": {"domain": [0, 105.5], "nice": false, "zero": false}},
  "y2": {"field": "y2"}}},
{"data": {"name": "ann"}, "transform": [{"filter": "datum.id === 'redarrow'"}],
 "mark": {"type": "rule", "color": "#e01a1a", "strokeWidth": 3.5},
 "encoding": {
  "x": {"field": "x", "type": "temporal", "scale": {"type": "utc", "domain": [{"year": 2020, "month": 6, "date": 28, "utc": true}, {"year": 2024, "month": 11, "date": 22, "utc": true}]},
    "axis": {"values": [{"year": 2020, "month": 7, "date": 1, "utc": true}, {"year": 2021, "month": 1, "date": 1, "utc": true}, {"year": 2021, "month": 7, "date": 1, "utc": true}, {"year": 2022, "month": 1, "date": 1, "utc": true}, {"year": 2022, "month": 7, "date": 1, "utc": true}, {"year": 2023, "month": 1, "date": 1, "utc": true}, {"year": 2023, "month": 7, "date": 1, "utc": true}, {"year": 2024, "month": 1, "date": 1, "utc": true}, {"year": 2024, "month": 7, "date": 1, "utc": true}], "format": "%b '%y", "grid": false, "domain": true, "domainColor": "#dddddd", "ticks": true, "tickColor": "#dddddd", "tickSize": 5, "labelFont": "Inter", "labelFontSize": 12, "labelColor": "#555555", "labelPadding": 11, "title": "© 2024 Glassnode. All Rights Reserved.", "titleX": -50, "titleY": 72, "titleAlign": "left", "titleBaseline": "middle", "titleAngle": 0, "titleFont": "Inter", "titleFontSize": 14, "titleFontWeight": 400, "titleColor": "#777777", "zindex": 1}},
  "x2": {"field": "x2"},
  "y": {"field": "y", "type": "quantitative", "axis": null, "scale": {"domain": [0, 105.5], "nice": false, "zero": false}},
  "y2": {"field": "y2"}}},
{"data": {"name": "ann"}, "transform": [{"filter": "datum.id === 'bluearrow1' || datum.id === 'bluearrow2'"}],
 "mark": {"type": "rule", "color": "#0b0bd0", "strokeWidth": 3},
 "encoding": {
  "x": {"field": "x", "type": "temporal", "scale": {"type": "utc", "domain": [{"year": 2020, "month": 6, "date": 28, "utc": true}, {"year": 2024, "month": 11, "date": 22, "utc": true}]},
    "axis": {"values": [{"year": 2020, "month": 7, "date": 1, "utc": true}, {"year": 2021, "month": 1, "date": 1, "utc": true}, {"year": 2021, "month": 7, "date": 1, "utc": true}, {"year": 2022, "month": 1, "date": 1, "utc": true}, {"year": 2022, "month": 7, "date": 1, "utc": true}, {"year": 2023, "month": 1, "date": 1, "utc": true}, {"year": 2023, "month": 7, "date": 1, "utc": true}, {"year": 2024, "month": 1, "date": 1, "utc": true}, {"year": 2024, "month": 7, "date": 1, "utc": true}], "format": "%b '%y", "grid": false, "domain": true, "domainColor": "#dddddd", "ticks": true, "tickColor": "#dddddd", "tickSize": 5, "labelFont": "Inter", "labelFontSize": 12, "labelColor": "#555555", "labelPadding": 11, "title": "© 2024 Glassnode. All Rights Reserved.", "titleX": -50, "titleY": 72, "titleAlign": "left", "titleBaseline": "middle", "titleAngle": 0, "titleFont": "Inter", "titleFontSize": 14, "titleFontWeight": 400, "titleColor": "#777777", "zindex": 1}},
  "x2": {"field": "x2"},
  "y": {"field": "y", "type": "quantitative", "axis": null, "scale": {"domain": [0, 105.5], "nice": false, "zero": false}},
  "y2": {"field": "y2"}}},
{"data": {"name": "ann"}, "transform": [{"filter": "datum.id === 'redarrow'"}],
 "mark": {"type": "point", "shape": "M0,-1L0.75,1L-0.75,1Z", "filled": true, "size": 169, "angle": 302, "color": "#e01a1a", "opacity": 1},
 "encoding": {
  "x": {"field": "x2", "type": "temporal", "scale": {"type": "utc", "domain": [{"year": 2020, "month": 6, "date": 28, "utc": true}, {"year": 2024, "month": 11, "date": 22, "utc": true}]},
    "axis": {"values": [{"year": 2020, "month": 7, "date": 1, "utc": true}, {"year": 2021, "month": 1, "date": 1, "utc": true}, {"year": 2021, "month": 7, "date": 1, "utc": true}, {"year": 2022, "month": 1, "date": 1, "utc": true}, {"year": 2022, "month": 7, "date": 1, "utc": true}, {"year": 2023, "month": 1, "date": 1, "utc": true}, {"year": 2023, "month": 7, "date": 1, "utc": true}, {"year": 2024, "month": 1, "date": 1, "utc": true}, {"year": 2024, "month": 7, "date": 1, "utc": true}], "format": "%b '%y", "grid": false, "domain": true, "domainColor": "#dddddd", "ticks": true, "tickColor": "#dddddd", "tickSize": 5, "labelFont": "Inter", "labelFontSize": 12, "labelColor": "#555555", "labelPadding": 11, "title": "© 2024 Glassnode. All Rights Reserved.", "titleX": -50, "titleY": 72, "titleAlign": "left", "titleBaseline": "middle", "titleAngle": 0, "titleFont": "Inter", "titleFontSize": 14, "titleFontWeight": 400, "titleColor": "#777777", "zindex": 1}},
  "y": {"field": "y2", "type": "quantitative", "axis": null, "scale": {"domain": [0, 105.5], "nice": false, "zero": false}}}},
{"data": {"name": "ann"}, "transform": [{"filter": "datum.id === 'bluearrow1'"}],
 "mark": {"type": "point", "shape": "M0,-1L0.75,1L-0.75,1Z", "filled": true, "size": 169, "angle": 156, "color": "#0b0bd0", "opacity": 1},
 "encoding": {
  "x": {"field": "x2", "type": "temporal", "scale": {"type": "utc", "domain": [{"year": 2020, "month": 6, "date": 28, "utc": true}, {"year": 2024, "month": 11, "date": 22, "utc": true}]},
    "axis": {"values": [{"year": 2020, "month": 7, "date": 1, "utc": true}, {"year": 2021, "month": 1, "date": 1, "utc": true}, {"year": 2021, "month": 7, "date": 1, "utc": true}, {"year": 2022, "month": 1, "date": 1, "utc": true}, {"year": 2022, "month": 7, "date": 1, "utc": true}, {"year": 2023, "month": 1, "date": 1, "utc": true}, {"year": 2023, "month": 7, "date": 1, "utc": true}, {"year": 2024, "month": 1, "date": 1, "utc": true}, {"year": 2024, "month": 7, "date": 1, "utc": true}], "format": "%b '%y", "grid": false, "domain": true, "domainColor": "#dddddd", "ticks": true, "tickColor": "#dddddd", "tickSize": 5, "labelFont": "Inter", "labelFontSize": 12, "labelColor": "#555555", "labelPadding": 11, "title": "© 2024 Glassnode. All Rights Reserved.", "titleX": -50, "titleY": 72, "titleAlign": "left", "titleBaseline": "middle", "titleAngle": 0, "titleFont": "Inter", "titleFontSize": 14, "titleFontWeight": 400, "titleColor": "#777777", "zindex": 1}},
  "y": {"field": "y2", "type": "quantitative", "axis": null, "scale": {"domain": [0, 105.5], "nice": false, "zero": false}}}},
{"data": {"name": "ann"}, "transform": [{"filter": "datum.id === 'bluearrow2'"}],
 "mark": {"type": "point", "shape": "M0,-1L0.75,1L-0.75,1Z", "filled": true, "size": 169, "angle": 161, "color": "#0b0bd0", "opacity": 1},
 "encoding": {
  "x": {"field": "x2", "type": "temporal", "scale": {"type": "utc", "domain": [{"year": 2020, "month": 6, "date": 28, "utc": true}, {"year": 2024, "month": 11, "date": 22, "utc": true}]},
    "axis": {"values": [{"year": 2020, "month": 7, "date": 1, "utc": true}, {"year": 2021, "month": 1, "date": 1, "utc": true}, {"year": 2021, "month": 7, "date": 1, "utc": true}, {"year": 2022, "month": 1, "date": 1, "utc": true}, {"year": 2022, "month": 7, "date": 1, "utc": true}, {"year": 2023, "month": 1, "date": 1, "utc": true}, {"year": 2023, "month": 7, "date": 1, "utc": true}, {"year": 2024, "month": 1, "date": 1, "utc": true}, {"year": 2024, "month": 7, "date": 1, "utc": true}], "format": "%b '%y", "grid": false, "domain": true, "domainColor": "#dddddd", "ticks": true, "tickColor": "#dddddd", "tickSize": 5, "labelFont": "Inter", "labelFontSize": 12, "labelColor": "#555555", "labelPadding": 11, "title": "© 2024 Glassnode. All Rights Reserved.", "titleX": -50, "titleY": 72, "titleAlign": "left", "titleBaseline": "middle", "titleAngle": 0, "titleFont": "Inter", "titleFontSize": 14, "titleFontWeight": 400, "titleColor": "#777777", "zindex": 1}},
  "y": {"field": "y2", "type": "quantitative", "axis": null, "scale": {"domain": [0, 105.5], "nice": false, "zero": false}}}}
]
}
